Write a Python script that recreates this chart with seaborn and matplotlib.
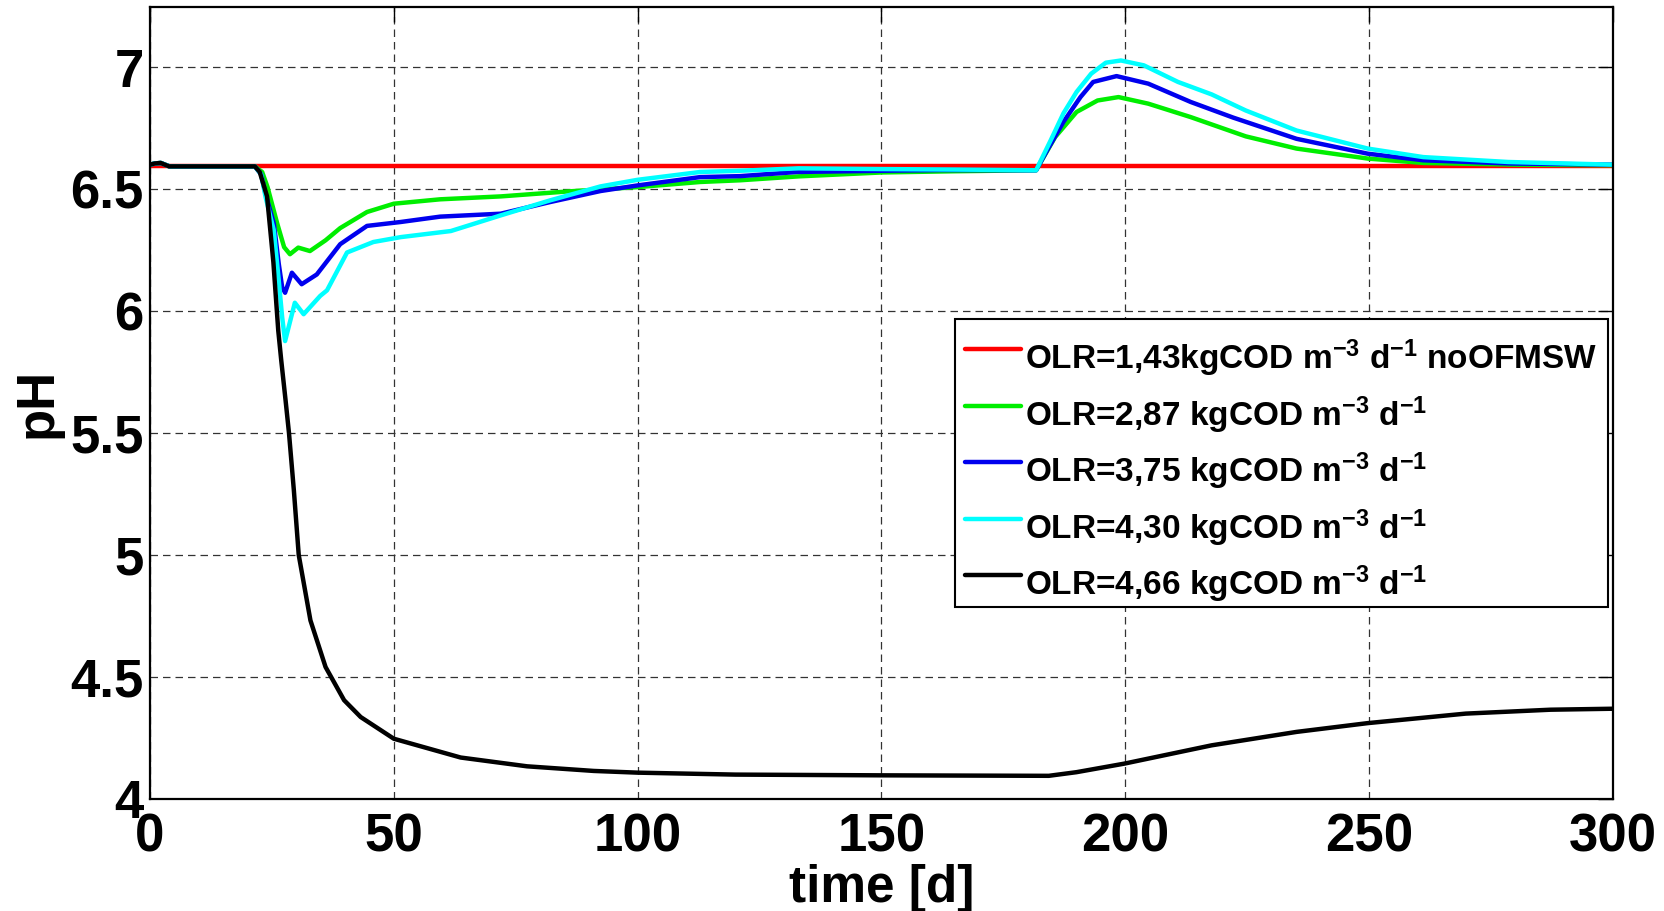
import numpy as np
import pandas as pd
import matplotlib
matplotlib.use("Agg")
import matplotlib.pyplot as plt
import matplotlib.transforms as mtransforms
import seaborn as sns

# ---------------- data ----------------
labels = [
    r"OLR=1,43kgCOD m$^{-3}$ d$^{-1}$ noOFMSW",
    r"OLR=2,87 kgCOD m$^{-3}$ d$^{-1}$",
    r"OLR=3,75 kgCOD m$^{-3}$ d$^{-1}$",
    r"OLR=4,30 kgCOD m$^{-3}$ d$^{-1}$",
    r"OLR=4,66 kgCOD m$^{-3}$ d$^{-1}$",
]
colors = ["#ff0000", "#00ee00", "#0000ee", "#00ffff", "#000000"]

red_t = [0, 300]
red_ph = [6.595, 6.595]

green_t = [0, 1, 2.2, 4, 21.5, 23, 24.1, 26.1, 27.5, 28.7, 30.4, 32.8, 36, 39, 44.5,
           50, 59.5, 72, 85.5, 100, 112.8, 121, 133, 150, 165, 181.7, 185.6, 190,
           194.3, 198.6, 204.7, 213.4, 224.7, 235.1, 249.7, 261.1, 280, 300]
green_ph = [6.6, 6.605, 6.607, 6.593, 6.593, 6.57, 6.508, 6.358, 6.262, 6.233, 6.26,
            6.246, 6.29, 6.34, 6.406, 6.44, 6.458, 6.47, 6.49, 6.508, 6.529, 6.536,
            6.552, 6.568, 6.573, 6.577, 6.713, 6.816, 6.863, 6.877, 6.85, 6.795,
            6.716, 6.666, 6.625, 6.607, 6.6, 6.598]

blue_t = [0, 1, 2.2, 4, 21.5, 22.8, 23.7, 25.4, 26.4, 27.1, 27.7, 29.1, 31.1, 34.2,
          39, 44.5, 51.4, 59.5, 71.9, 82.1, 92.4, 100, 112.8, 121, 132.7, 150, 162,
          181.7, 184, 187.3, 190.8, 193.4, 198.2, 204.7, 213.4, 222.1, 235.1, 249.7,
          261.1, 278.5, 300]
blue_ph = [6.6, 6.605, 6.607, 6.593, 6.593, 6.56, 6.48, 6.358, 6.194, 6.098, 6.075,
           6.157, 6.11, 6.15, 6.274, 6.349, 6.365, 6.387, 6.399, 6.447, 6.492, 6.515,
           6.549, 6.553, 6.57, 6.575, 6.578, 6.577, 6.66, 6.775, 6.877, 6.939, 6.963,
           6.932, 6.857, 6.793, 6.706, 6.645, 6.618, 6.605, 6.6]

cyan_t = [0, 1, 2.2, 4, 21.5, 22.8, 23.7, 25.4, 26.4, 27.1, 27.7, 29.7, 31.5, 34.9,
          36.3, 40.4, 45.8, 51.4, 61.7, 71.9, 82.1, 92.4, 100, 112.8, 121, 133, 150,
          165, 181.7, 184.7, 187.3, 190, 193, 196, 199.1, 203.8, 210.8, 217.7, 224.7,
          235.1, 249.7, 261.1, 278.5, 300]
cyan_ph = [6.6, 6.605, 6.607, 6.593, 6.593, 6.56, 6.467, 6.33, 6.126, 5.975, 5.877,
           6.034, 5.987, 6.062, 6.085, 6.24, 6.283, 6.303, 6.328, 6.392, 6.454, 6.511,
           6.538, 6.57, 6.575, 6.585, 6.582, 6.58, 6.577, 6.70, 6.81, 6.898, 6.973,
           7.018, 7.027, 7.007, 6.939, 6.888, 6.822, 6.74, 6.666, 6.631, 6.611, 6.60]

black_t = [0, 1, 2.2, 3.9, 21.5, 22.5, 24, 25.3, 26.3, 26.9, 27.8, 28.5, 29.5, 30.5,
           32.9, 36, 39.8, 43.2, 50, 63.7, 77.3, 91, 100, 120, 150, 184.3, 190,
           199.8, 217.7, 235.1, 249.7, 269.8, 287.2, 300]
black_ph = [6.6, 6.605, 6.607, 6.593, 6.593, 6.57, 6.47, 6.2, 5.92, 5.80, 5.634, 5.5,
            5.265, 5.0, 4.732, 4.541, 4.405, 4.336, 4.247, 4.17, 4.134, 4.115, 4.108,
            4.10, 4.097, 4.095, 4.11, 4.145, 4.22, 4.275, 4.311, 4.35, 4.366, 4.37]

x_ticks = [0, 50, 100, 150, 200, 250, 300]
y_ticks = [4, 4.5, 5, 5.5, 6, 6.5, 7]
y_tick_labels = ["4", "4.5", "5", "5.5", "6", "6.5", "7"]

series_t = [red_t, green_t, blue_t, cyan_t, black_t]
series_ph = [red_ph, green_ph, blue_ph, cyan_ph, black_ph]

# ---------------- style ----------------
sns.set_style("white")
plt.rcParams["font.family"] = ["Liberation Sans", "DejaVu Sans"]
plt.rcParams["font.weight"] = "bold"
plt.rcParams["mathtext.fontset"] = "custom"
plt.rcParams["mathtext.rm"] = "Liberation Sans:bold"
plt.rcParams["mathtext.it"] = "Liberation Sans:bold"
plt.rcParams["mathtext.bf"] = "Liberation Sans:bold"
plt.rcParams["mathtext.default"] = "rm"
plt.rcParams["text.color"] = "black"
plt.rcParams["axes.labelcolor"] = "black"
plt.rcParams["xtick.color"] = "black"
plt.rcParams["ytick.color"] = "black"

fig = plt.figure(figsize=(16.64, 9.11), dpi=100)
ax = fig.add_axes([150 / 1664, 1 - 799 / 911, 1463 / 1664, (799 - 7.3) / 911])

for lab, t, ph, c in zip(labels, series_t, series_ph, colors):
    df = pd.DataFrame({"time": t, "pH": ph})
    sns.lineplot(data=df, x="time", y="pH", ax=ax, color=c, linewidth=3.2,
                 label=lab, sort=False, estimator=None)

ax.set_xlim(0, 300)
ax.set_ylim(4, 7.245)
ax.set_xticks(x_ticks)
ax.set_xticklabels([str(v) for v in x_ticks])
ax.set_yticks(y_ticks)
ax.set_yticklabels(y_tick_labels)

ax.grid(True, color="#333333", linestyle=(0, (6, 4)), linewidth=0.9)
ax.set_axisbelow(True)
for s in ax.spines.values():
    s.set_color("black")
    s.set_linewidth(1.6)

ax.tick_params(axis="both", direction="in", top=True, right=True, length=11,
               width=1, colors="black", labelsize=38)
ax.tick_params(axis="x", pad=9.8)
ax.tick_params(axis="y", pad=4.5)
for lbl in ax.get_xticklabels() + ax.get_yticklabels():
    lbl.set_fontweight("bold")
    lbl.set_color("black")

ax.set_xlabel("time [d]", fontsize=37, fontweight="bold", color="black")
ax.set_ylabel("pH", fontsize=38, fontweight="bold", color="black")
ax.xaxis.set_label_coords(0.5, -0.082)
ax.yaxis.set_label_coords(-0.0597, 0.5)

leg = ax.legend(loc="upper left", bbox_to_anchor=(0.550, 0.606), borderaxespad=0,
                fontsize=24, handlelength=1.7, handletextpad=0.12,
                labelspacing=0.45, borderpad=0.3, frameon=True, fancybox=False,
                framealpha=1, edgecolor="black")
leg.get_frame().set_linewidth(1.5)
shift = mtransforms.ScaledTranslation(0, -6 / 72, fig.dpi_scale_trans)
for txt in leg.get_texts():
    txt.set_fontweight("bold")
    txt.set_color("black")
    txt.set_transform(txt.get_transform() + shift)
for ln in leg.get_lines():
    ln.set_linewidth(3.2)

fig.savefig("out.png", dpi=100)
